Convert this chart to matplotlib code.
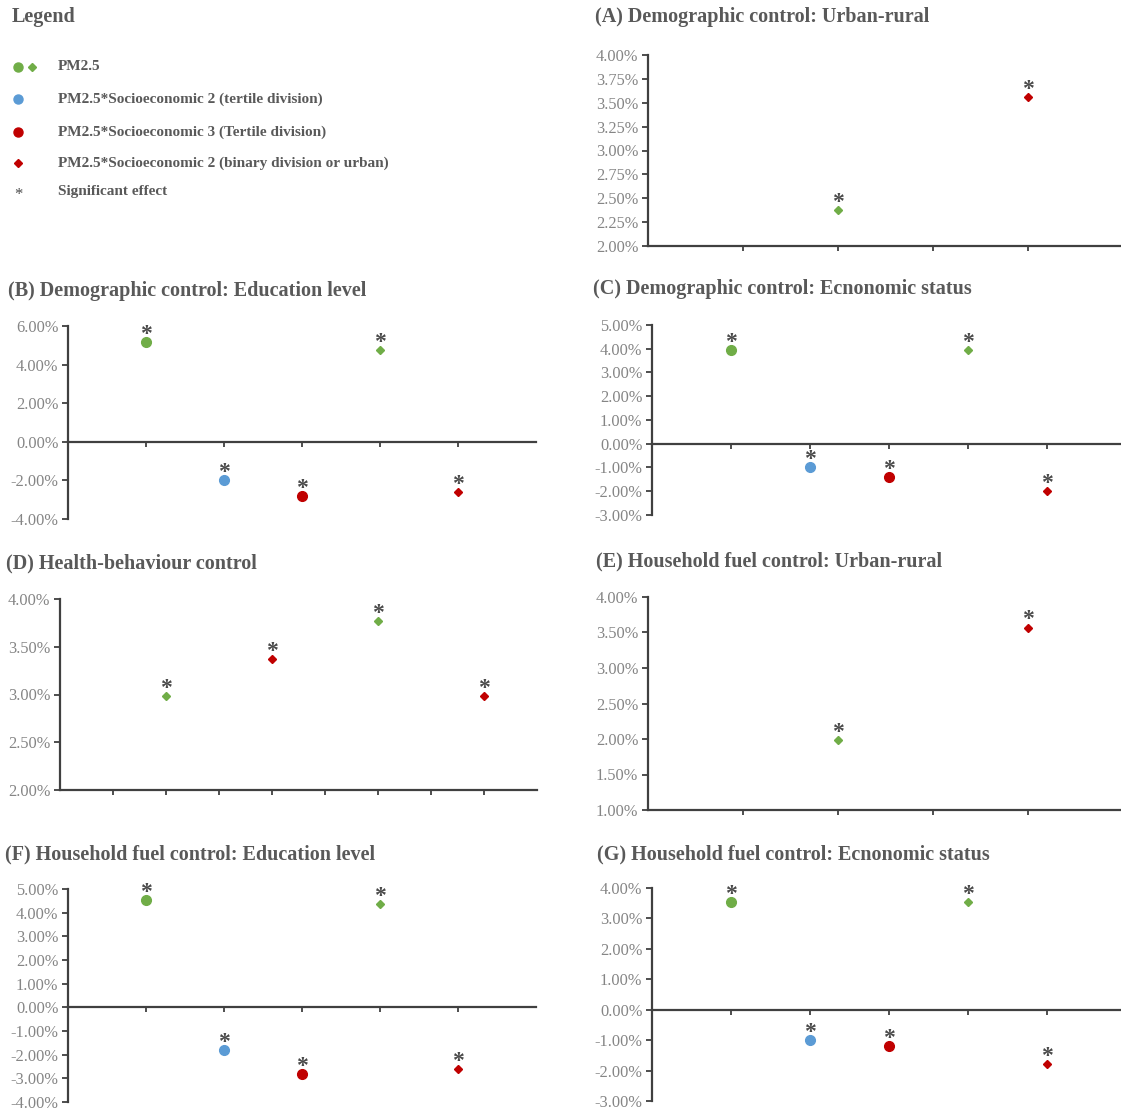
import matplotlib
matplotlib.use('Agg')
import matplotlib.pyplot as plt
from matplotlib.ticker import FuncFormatter, MultipleLocator

plt.rcParams['font.family'] = ['Liberation Serif', 'DejaVu Serif']

W, H = 1121, 1110

# ---- data (values in %) ----
legend_labels = ['PM2.5',
                 'PM2.5*Socioeconomic 2 (tertile division)',
                 'PM2.5*Socioeconomic 3 (Tertile division)',
                 'PM2.5*Socioeconomic 2 (binary division or urban)',
                 'Significant effect']

a_title = '(A) Demographic control: Urban-rural'
a_x = [2, 4]
a_y = [2.375, 3.56]
a_kind = ['pm_d', 'ses2_b']
a_sig = [True, True]

b_title = '(B) Demographic control: Education level'
b_x = [1, 2, 3, 4, 5]
b_y = [5.15, -2.0, -2.8, 4.75, -2.6]
b_kind = ['pm_c', 'ses2_t', 'ses3_t', 'pm_d', 'ses2_b']
b_sig = [True, True, True, True, True]

c_title = '(C) Demographic control: Ecnonomic status'
c_x = [1, 2, 3, 4, 5]
c_y = [3.95, -1.0, -1.4, 3.95, -2.0]
c_kind = ['pm_c', 'ses2_t', 'ses3_t', 'pm_d', 'ses2_b']
c_sig = [True, True, True, True, True]

d_title = '(D) Health-behaviour control'
d_x = [2, 4, 6, 8]
d_y = [2.98, 3.37, 3.77, 2.98]
d_kind = ['pm_d', 'ses2_b', 'pm_d', 'ses2_b']
d_sig = [True, True, True, True]

e_title = '(E) Household fuel control: Urban-rural'
e_x = [2, 4]
e_y = [1.98, 3.57]
e_kind = ['pm_d', 'ses2_b']
e_sig = [True, True]

f_title = '(F) Household fuel control: Education level'
f_x = [1, 2, 3, 4, 5]
f_y = [4.55, -1.8, -2.8, 4.35, -2.6]
f_kind = ['pm_c', 'ses2_t', 'ses3_t', 'pm_d', 'ses2_b']
f_sig = [True, True, True, True, True]

g_title = '(G) Household fuel control: Ecnonomic status'
g_x = [1, 2, 3, 4, 5]
g_y = [3.55, -1.0, -1.2, 3.55, -1.8]
g_kind = ['pm_c', 'ses2_t', 'ses3_t', 'pm_d', 'ses2_b']
g_sig = [True, True, True, True, True]

# ---- styles ----
GREEN = '#70AD47'
BLUE = '#5B9BD5'
RED = '#C00000'
TITLE_C = '#595959'
TICK_C = '#858585'
AXIS_C = '#404040'
STAR_C = '#4a4a4a'

styles = {
    'pm_c': dict(marker='o', color=GREEN, ms=7),
    'pm_d': dict(marker='D', color=GREEN, ms=4.4),
    'ses2_t': dict(marker='o', color=BLUE, ms=7),
    'ses3_t': dict(marker='o', color=RED, ms=7),
    'ses2_b': dict(marker='D', color=RED, ms=4.4),
}

fig = plt.figure(figsize=(W / 100, H / 100), dpi=100)

# overlay axes in pixel coordinates for titles and the legend
over = fig.add_axes([0, 0, 1, 1], zorder=-1)
over.set_xlim(0, W)
over.set_ylim(H, 0)
over.axis('off')


def rect(x0, ytop, x1, ybot):
    return [x0 / W, 1 - ybot / H, (x1 - x0) / W, (ybot - ytop) / H]


def panel(box, title, title_xy, xs, ys, kinds, sigs, xlim, ylim, ystep, nticks):
    ax = fig.add_axes(rect(*box))
    ax.set_xlim(*xlim)
    ax.set_ylim(*ylim)
    for x, y, k, s in zip(xs, ys, kinds, sigs):
        st = styles[k]
        ax.plot([x], [y], linestyle='none', marker=st['marker'], ms=st['ms'],
                color=st['color'], mec=st['color'], clip_on=False, zorder=3)
        if s:
            ax.annotate('*', (x, y), xytext=(0, 1.5), textcoords='offset points',
                        ha='center', va='baseline', fontsize=17, fontweight='bold',
                        color=STAR_C, annotation_clip=False)
    for side in ['top', 'right']:
        ax.spines[side].set_visible(False)
    for side in ['left', 'bottom']:
        ax.spines[side].set_color(AXIS_C)
        ax.spines[side].set_linewidth(1.6)
    if ylim[0] < 0:
        ax.spines['bottom'].set_position(('data', 0))
    ax.yaxis.set_major_locator(MultipleLocator(ystep))
    ax.yaxis.set_major_formatter(FuncFormatter(lambda v, p: f'{v:.2f}%'))
    ax.set_xticks(range(1, nticks + 1))
    ax.set_xticklabels([])
    ax.tick_params(axis='y', direction='out', length=4, width=1.3, color=AXIS_C,
                   labelsize=11.8, labelcolor=TICK_C, pad=3)
    ax.tick_params(axis='x', direction='out', length=3.5, width=1.3, color=AXIS_C)
    ax.patch.set_alpha(0)
    over.text(title_xy[0], title_xy[1], title, fontsize=14.5, fontweight='bold',
              color=TITLE_C, ha='left', va='center')
    return ax


panel((648, 55, 1121, 246), a_title, (595, 17), a_x, a_y, a_kind, a_sig,
      (0, 4.98), (2.0, 4.0), 0.25, 4)
panel((68, 326, 536, 519), b_title, (8, 291), b_x, b_y, b_kind, b_sig,
      (0, 6), (-4, 6), 2, 5)
panel((652, 325, 1121, 515), c_title, (593, 289), c_x, c_y, c_kind, c_sig,
      (0, 5.94), (-3, 5), 1, 5)
panel((60, 599, 537, 790), d_title, (6, 563), d_x, d_y, d_kind, d_sig,
      (0, 9), (2.0, 4.0), 0.5, 8)
panel((648, 597, 1121, 810), e_title, (596, 561), e_x, e_y, e_kind, e_sig,
      (0, 4.98), (1.0, 4.0), 0.5, 4)
panel((68, 889, 536, 1102), f_title, (5, 854), f_x, f_y, f_kind, f_sig,
      (0, 6), (-4, 5), 1, 5)
panel((652, 888, 1121, 1101), g_title, (597, 854), g_x, g_y, g_kind, g_sig,
      (0, 5.94), (-3, 4), 1, 5)

# ---- legend ----
over.text(12, 17, 'Legend', fontsize=14.5, fontweight='bold', color=TITLE_C,
          ha='left', va='center')
leg_rows = [67, 99, 132, 163, 191]
over.plot([18], [67], 'o', color=GREEN, ms=6.5)
over.plot([32], [67], 'D', color=GREEN, ms=4.4)
over.plot([18], [99], 'o', color=BLUE, ms=6.5)
over.plot([18], [132], 'o', color=RED, ms=6.5)
over.plot([18], [163], 'D', color=RED, ms=4.4)
over.text(18, 199, '*', fontsize=12, color=STAR_C, ha='center', va='baseline')
for y, lab in zip(leg_rows, legend_labels):
    over.text(58, y, lab, fontsize=11, fontweight='bold', color=TITLE_C,
              ha='left', va='center')

fig.savefig('out.png', dpi=100)
